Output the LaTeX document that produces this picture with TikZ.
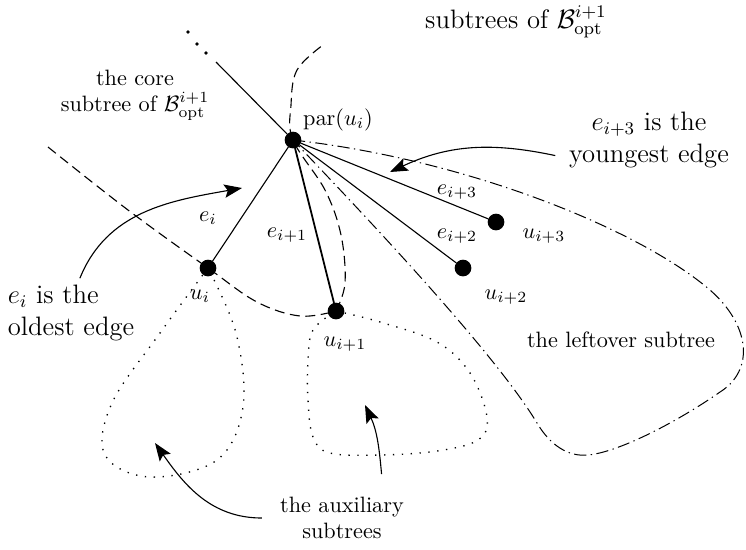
\documentclass[tikz,border=0pt]{standalone}
\usepackage{amsmath}
\usepackage{amssymb}
\usepackage{tikz}
\usetikzlibrary{
    arrows.meta,
    positioning,
    calc
}
\tikzset{
  vtx/.style   = {draw, circle, fill=black, inner sep=0pt, minimum size=7pt},
  lab/.style   = {inner sep=1pt},
  note/.style  = {align=center, font=\large, inner sep=1pt},
  arr/.style   = {-{Stealth[length=8pt, width=6pt, inset=1.5pt]}, line width=0.5pt},
  coreb/.style = {dash pattern=on 4.5pt off 2.5pt, line width=0.5pt},
  leftb/.style = {dash pattern=on 5.5pt off 2pt on 0.6pt off 2pt, line width=0.45pt},
  auxb/.style  = {dash pattern=on 0.6pt off 3.4pt, line width=0.6pt}
}

\begin{document}
\begin{tikzpicture}[x=0.45pt, y=0.45pt, line width=0.5pt]
\useasboundingbox (0,0) rectangle (746,-549);

% vertices
\node[vtx] (par) at (293,-140) {};
\node[vtx] (ui)  at (208,-268) {};
\node[vtx] (ui1) at (336,-311) {};
\node[vtx] (ui2) at (463,-268) {};
\node[vtx] (ui3) at (496,-222) {};
\coordinate (up) at (216,-62);

% boundaries of the subtrees
\draw[coreb] plot[smooth, tension=0.6] coordinates {(48,-147) (128,-210) (ui.center)
    (257,-302) (300,-316) (ui1.center)}
  plot[smooth, tension=0.6] coordinates {(ui1.center) (345,-283) (341,-235) (325,-190)
    (par.center) (291,-105) (297,-70) (323,-45)};
\draw[leftb] (par.center) .. controls (470,-160) and (640,-230) .. (710,-290)
  .. controls (750,-325) and (755,-370) .. (720,-392)
  .. controls (680,-420) and (620,-452) .. (588,-455)
  .. controls (568,-457) and (550,-445) .. (537,-423)
  .. controls (490,-345) and (340,-190) .. (par.center);
\draw[auxb] plot[smooth, tension=0.6] coordinates {(ui.center) (160,-333) (112,-403)
    (105,-455) (150,-477) (217,-460) (243,-407) (236,-333) (ui.center)};
\draw[auxb] plot[smooth, tension=0.6] coordinates {(ui1.center) (380,-322) (437,-342)
    (470,-373) (487,-417) (478,-440) (437,-451) (380,-455) (330,-453) (313,-437)
    (308,-400) (308,-360) (313,-330) (ui1.center)};

% tree edges
\draw (par) -- (up);
\draw (par) -- (ui);
\draw[line width=0.8pt] (par) -- (ui1);
\draw (par) -- (ui2);
\draw (par) -- (ui3);
\foreach \p in {(188,-32),(197,-44),(206,-53)}
  \fill \p circle (0.8pt);

% labels
\node[lab] (lpar) at (338,-120) {$\mathrm{par}(u_i)$};
\node[lab] (lui)  at (200,-296) {$u_i$};
\node[lab] (lui1) at (345,-344) {$u_{i+1}$};
\node[lab] (lui2) at (506,-297) {$u_{i+2}$};
\node[lab] (lui3) at (544,-236) {$u_{i+3}$};
\node[lab] (le1) at (208,-218) {$e_i$};
\node[lab] (le2) at (287,-235) {$e_{i+1}$};
\node[lab] (le3) at (457,-236) {$e_{i+2}$};
\node[lab] (le4) at (457,-192) {$e_{i+3}$};

\node[align=center, inner sep=1pt] (coretxt) at (135,-95)
  {the core\\subtree of $\mathcal{B}^{i+1}_{\mathrm{opt}}$};
\node[note] (subtxt) at (516,-22) {subtrees of $\mathcal{B}^{i+1}_{\mathrm{opt}}$};
\node[note, align=left] (oldtxt) at (71,-313) {$e_i$ is the\\oldest edge};
\node[note] (youngtxt) at (649,-140) {$e_{i+3}$ is the\\youngest edge};
\node[lab] (lefttxt) at (621,-340) {the leftover subtree};
\node[align=center, inner sep=1pt] (auxtxt) at (342,-518) {the auxiliary\\subtrees};

% pointers
\coordinate (oldtip)   at (242,-188);
\coordinate (youngtip) at (390,-172);
\coordinate (auxtipa)  at (155,-443);
\coordinate (auxtipb)  at (365,-405);
\draw[arr] ([xshift=4pt, yshift=2pt]oldtxt.north) to[out=68, in=190] (oldtip);
\draw[arr] ([xshift=-5pt, yshift=-7pt]youngtxt.west) to[out=168, in=25] (youngtip);
\draw[arr] ([xshift=-7pt]auxtxt.west) to[out=180, in=-55] (auxtipa);
\draw[arr] ($(auxtxt.north east)+(-25,20)$) to[out=95, in=-65] (auxtipb);
\end{tikzpicture}
\end{document}
